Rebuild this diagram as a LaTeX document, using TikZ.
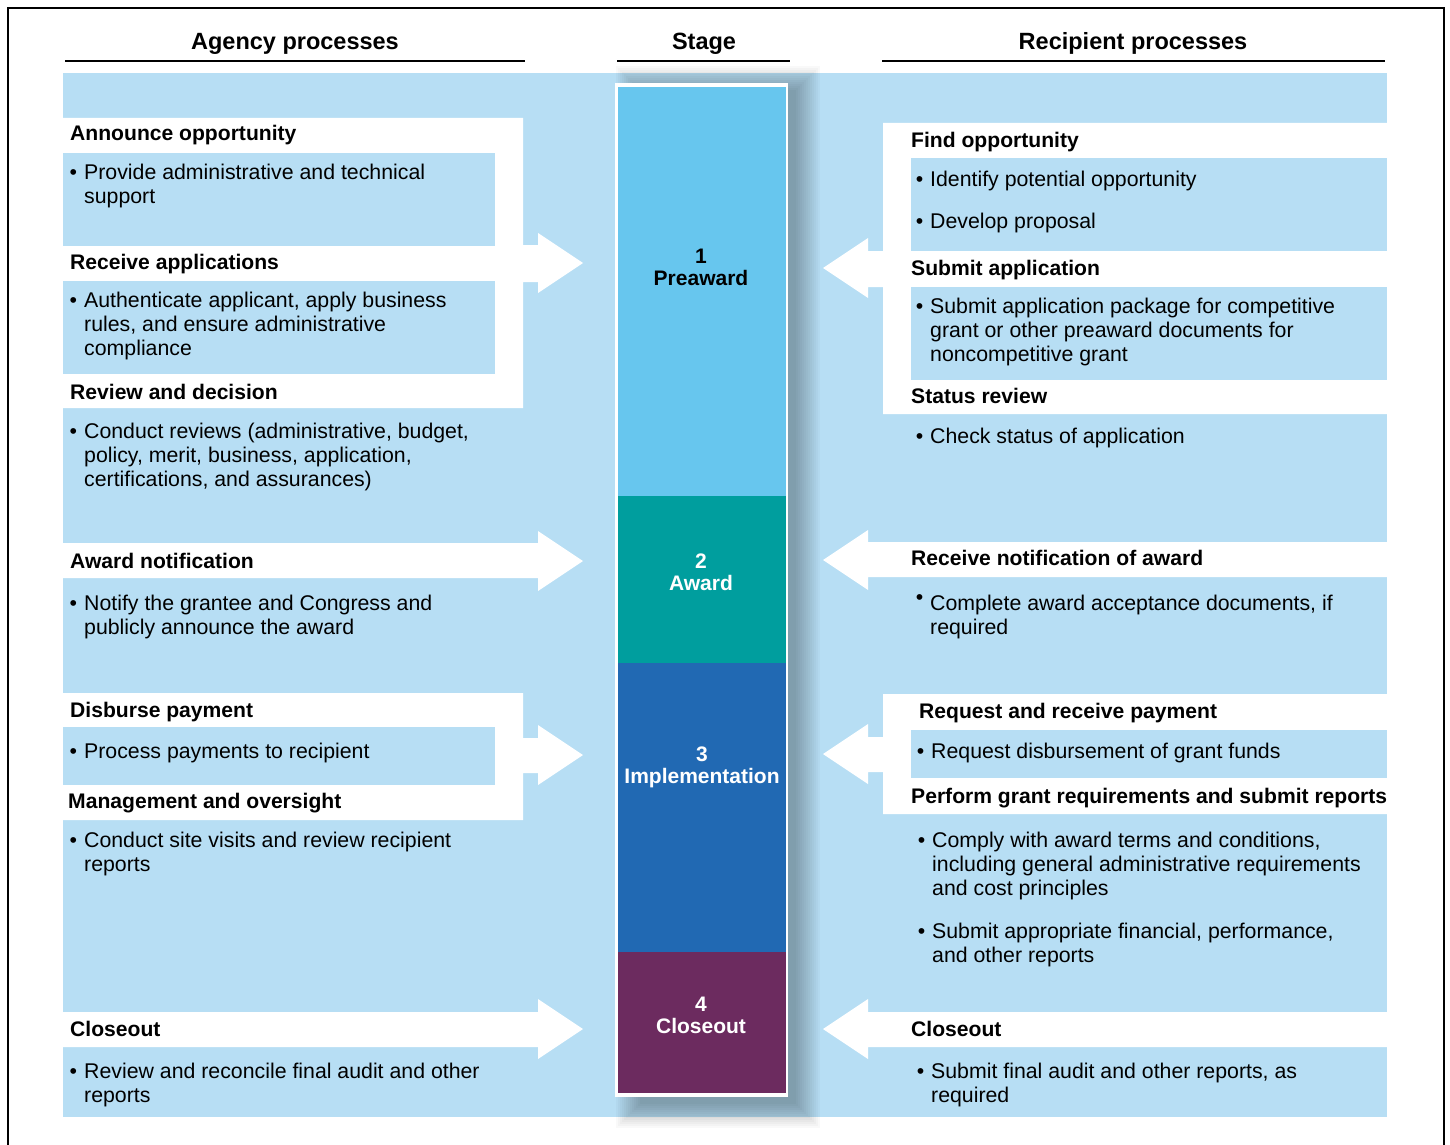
\documentclass[tikz,border=0pt]{standalone}
\usepackage{fontspec}
\setmainfont{Liberation Sans}
\definecolor{bgblue}{HTML}{B7DEF4}
\definecolor{preblue}{HTML}{67C6EE}
\definecolor{awteal}{HTML}{009E9E}
\definecolor{impblue}{HTML}{2169B3}
\definecolor{closepurple}{HTML}{6C2B5F}
\newcommand\bl{\strut\llap{•\hspace{7pt}}}
\newcommand\blr{\strut\llap{\raisebox{6pt}{•}\hspace{7pt}}}
\begin{document}
\begin{tikzpicture}[x=1pt,y=-1pt,
  hdr/.style={anchor=base, inner sep=0, font=\bfseries\fontsize{23.5}{28}\selectfont},
  hd/.style={anchor=base west, inner sep=0, font=\bfseries\fontsize{21.1}{24}\selectfont},
  bd/.style={anchor=north west, inner sep=0, align=left, yshift=16.8pt, font=\fontsize{21.3}{24}\selectfont},
  stg/.style={anchor=north, inner sep=0, align=center, yshift=15.4pt, font=\bfseries\fontsize{21}{22}\selectfont},
  whiteshape/.style={fill=white},
  boxfill/.style={fill=bgblue},
  rule/.style={line width=1.3pt}]
\useasboundingbox (0,0) rectangle (1450,1145);
\fill[white] (0,0) rectangle (1450,1145);
\draw[line width=1.5pt] (8,1170) -- (8,8) -- (1444,8) -- (1444,1170);

% headers
\node[hdr] (hA) at (295,50) {Agency processes};
\node[hdr] (hS) at (704,50) {Stage};
\node[hdr] (hR) at (1133,50) {Recipient processes};
\draw[rule] (65,61) -- (525,61);
\draw[rule] (617,61) -- (790,61);
\draw[rule] (882,61) -- (1385,61);

% background
\fill[bgblue] (63,73) rectangle (1387,1117);

% left white groups
\fill[whiteshape] (63,118) -- (523,118) -- (523,245) -- (538,245) -- (538,233) -- (583,263)
  -- (538,293) -- (538,282) -- (523,282) -- (523,408) -- (63,408) -- cycle;
\fill[boxfill] (63,153) rectangle (495,246);
\fill[boxfill] (63,281) rectangle (495,374);
\fill[whiteshape] (63,543) -- (538,543) -- (538,531) -- (583,561) -- (538,591) -- (538,578) -- (63,578) -- cycle;
\fill[whiteshape] (63,693) -- (523,693) -- (523,738) -- (538,738) -- (538,725) -- (583,755)
  -- (538,785) -- (538,773) -- (523,773) -- (523,820) -- (63,820) -- cycle;
\fill[boxfill] (63,727) rectangle (495,785);
\fill[whiteshape] (63,1012) -- (538,1012) -- (538,999) -- (583,1029) -- (538,1059) -- (538,1047) -- (63,1047) -- cycle;

% right white groups
\fill[whiteshape] (1387,123) -- (883,123) -- (883,251) -- (868,251) -- (868,238) -- (823,268)
  -- (868,298) -- (868,287) -- (883,287) -- (883,414) -- (1387,414) -- cycle;
\fill[boxfill] (911,158) rectangle (1387,251);
\fill[boxfill] (911,287) rectangle (1387,380);
\fill[whiteshape] (1387,542) -- (868,542) -- (868,530) -- (823,560) -- (868,590) -- (868,577) -- (1387,577) -- cycle;
\fill[whiteshape] (1387,694) -- (883,694) -- (883,737) -- (868,737) -- (868,724) -- (823,754)
  -- (868,784) -- (868,772) -- (883,772) -- (883,814) -- (1387,814) -- cycle;
\fill[boxfill] (911,730) rectangle (1387,778);
\fill[whiteshape] (1387,1012) -- (868,1012) -- (868,999) -- (823,1029) -- (868,1059) -- (868,1047) -- (1387,1047) -- cycle;

% shadow of stage column
\foreach \e in {0,2,...,24}
  \fill[black,opacity=0.024] (640-\e,90-\e) rectangle (796+\e,1104+\e);

% stage column
\fill[white] (615,83) rectangle (788,1097);
\fill[preblue] (618,87) rectangle (786,496);
\fill[awteal] (618,496) rectangle (786,663);
\fill[impblue] (618,663) rectangle (786,952);
\fill[closepurple] (618,952) rectangle (786,1093);
\node[stg, text=black] (s1) at (701,264) {1\\Preaward};
\node[stg, text=white] (s2) at (701,569) {2\\Award};
\node[stg, text=white] (s3) at (702,762) {3\\Implementation};
\node[stg, text=white] (s4) at (701,1012) {4\\Closeout};

% left texts
\node[hd] (l1) at (70,140) {Announce opportunity};
\node[bd] (l1b) at (84,179) {\bl Provide administrative and technical\\support};
\node[hd] (l2) at (70,269) {Receive applications};
\node[bd] (l2b) at (84,307) {\bl Authenticate applicant, apply business\\rules, and ensure administrative\\compliance};
\node[hd] (l3) at (70,399) {Review and decision};
\node[bd] (l3b) at (84,438) {\bl Conduct reviews (administrative, budget,\\policy, merit, business, application,\\certifications, and assurances)};
\node[hd] (l4) at (70,568) {Award notification};
\node[bd] (l4b) at (84,610) {\bl Notify the grantee and Congress and\\publicly announce the award};
\node[hd] (l5) at (70,717) {Disburse payment};
\node[bd] (l5b) at (84,758) {\bl Process payments to recipient};
\node[hd] (l6) at (68,808) {Management and oversight};
\node[bd] (l6b) at (84,847) {\bl Conduct site visits and review recipient\\reports};
\node[hd] (l7) at (70,1036) {Closeout};
\node[bd] (l7b) at (84,1078) {\bl Review and reconcile final audit and other\\reports};

% right texts
\node[hd] (r1) at (911,147) {Find opportunity};
\node[bd] (r1b) at (930,186) {\bl Identify potential opportunity};
\node[bd] (r1c) at (930,228) {\bl Develop proposal};
\node[hd] (r2) at (911,275) {Submit application};
\node[bd] (r2b) at (930,313) {\bl Submit application package for competitive\\grant or other preaward documents for\\noncompetitive grant};
\node[hd] (r3) at (911,403) {Status review};
\node[bd] (r3b) at (930,443) {\bl Check status of application};
\node[hd] (r4) at (911,565) {Receive notification of award};
\node[bd] (r4b) at (930,610) {\blr Complete award acceptance documents, if\\required};
\node[hd] (r5) at (919,718) {Request and receive payment};
\node[bd] (r5b) at (931,758) {\bl Request disbursement of grant funds};
\node[hd] (r6) at (911,803) {Perform grant requirements and submit reports};
\node[bd] (r6b) at (932,847) {\bl Comply with award terms and conditions,\\including general administrative requirements\\and cost principles};
\node[bd] (r6c) at (932,938) {\bl Submit appropriate financial, performance,\\and other reports};
\node[hd] (r7) at (911,1036) {Closeout};
\node[bd] (r7b) at (931,1078) {\bl Submit final audit and other reports, as\\required};
\end{tikzpicture}
\end{document}
